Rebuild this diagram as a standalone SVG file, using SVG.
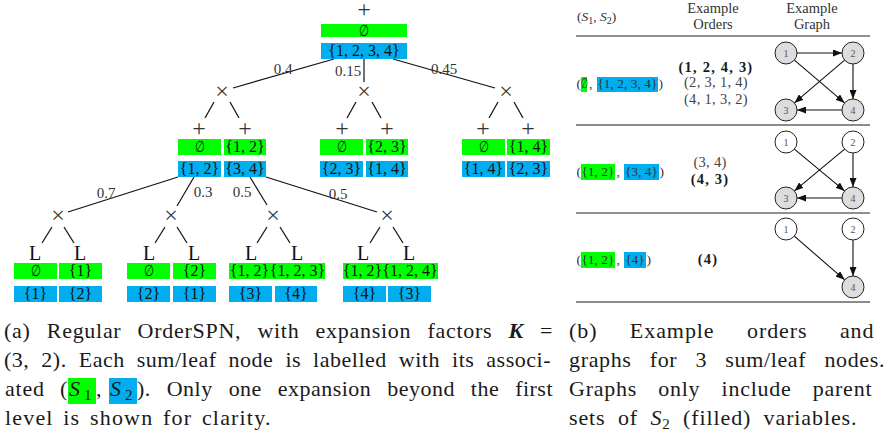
<svg xmlns="http://www.w3.org/2000/svg" width="884" height="438" viewBox="0 0 884 438">
<style>
text{font-family:"Liberation Serif","DejaVu Serif",serif;fill:#222}
.op{font-size:24px;text-anchor:middle;fill:#333}
.lf{font-size:20px;text-anchor:middle;fill:#111}
.set{font-size:16px;text-anchor:middle;fill:#111}
.w{font-size:15px;text-anchor:middle;fill:#333}
.g{fill:#00ff00}
.b{fill:#00aeef}
.e{stroke:#111;stroke-width:1.2;fill:none}
.t{font-size:13.5px;fill:#333}
.tc{font-size:13.5px;fill:#333;text-anchor:middle}
.hd{font-size:14.5px;fill:#333;text-anchor:middle}
.od{font-size:14.5px;fill:#444;text-anchor:middle;letter-spacing:0.3px}
.bd{font-weight:bold;fill:#1a1a1a;letter-spacing:1.2px}
.ar{stroke:#111;stroke-width:1.1;fill:none;marker-end:url(#ah)}
.nd{stroke:#222;stroke-width:1}
.nf{fill:#dddddd}
.nw{fill:#ffffff}
.nl{font-size:10px;text-anchor:middle;fill:#555}
.cap{font-size:22px;fill:#1a1a1a}
.it{font-style:italic}
.sub{font-size:15px}
</style>
<defs>
<marker id="ah" markerWidth="9" markerHeight="7" refX="9" refY="3.5" orient="auto" markerUnits="userSpaceOnUse"><path d="M0,0 L9,3.5 L0,7 z" fill="#111"/></marker>
</defs>

<g id="connectors">
<line class="e" x1="334" y1="59" x2="233" y2="88"/>
<line class="e" x1="364" y1="59" x2="364" y2="82"/>
<line class="e" x1="393" y1="59" x2="495" y2="88"/>
<line class="e" x1="214" y1="102" x2="205" y2="118"/>
<line class="e" x1="230" y1="102" x2="239" y2="118"/>
<line class="e" x1="356" y1="102" x2="347" y2="118"/>
<line class="e" x1="372" y1="102" x2="381" y2="118"/>
<line class="e" x1="498" y1="102" x2="489" y2="118"/>
<line class="e" x1="514" y1="102" x2="523" y2="118"/>
<line class="e" x1="178" y1="177" x2="68" y2="212"/>
<line class="e" x1="194" y1="177" x2="177" y2="206"/>
<line class="e" x1="250" y1="177" x2="267" y2="205"/>
<line class="e" x1="266" y1="177" x2="377" y2="212"/>
<line class="e" x1="52" y1="227" x2="42" y2="243"/>
<line class="e" x1="64" y1="227" x2="74" y2="243"/>
<line class="e" x1="165" y1="227" x2="155" y2="243"/>
<line class="e" x1="177" y1="227" x2="187" y2="243"/>
<line class="e" x1="267" y1="227" x2="257" y2="243"/>
<line class="e" x1="280" y1="227" x2="290" y2="243"/>
<line class="e" x1="380" y1="227" x2="370" y2="243"/>
<line class="e" x1="393" y1="227" x2="403" y2="243"/>
<text class="w" x="283" y="74">0.4</text>
<text class="w" x="348" y="76">0.15</text>
<text class="w" x="444" y="74">0.45</text>
<text class="w" x="106" y="198">0.7</text>
<text class="w" x="203" y="197">0.3</text>
<text class="w" x="242" y="197">0.5</text>
<text class="w" x="338" y="199">0.5</text>
</g>

<g id="root">
<text class="op" x="364" y="17">+</text>
<rect class="g" x="321" y="24" width="86" height="13"/>
<text class="set" x="364" y="35.5" textLength="10" lengthAdjust="spacingAndGlyphs">∅</text>
<rect class="b" x="321" y="43" width="86" height="16"/>
<text class="set" x="364" y="55.5">{1, 2, 3, 4}</text>
</g>

<g id="prod1"><text class="op" x="222" y="99">×</text></g>
<g id="prod2"><text class="op" x="364" y="99">×</text></g>
<g id="prod3"><text class="op" x="506" y="99">×</text></g>

<g id="sum1a">
<text class="op" x="199" y="136">+</text>
<rect class="g" x="178" y="139" width="43" height="16"/>
<text class="set" x="199.5" y="152" textLength="10" lengthAdjust="spacingAndGlyphs">∅</text>
<rect class="b" x="178" y="161" width="43" height="16"/>
<text class="set" x="199.5" y="173.5">{1, 2}</text>
</g>
<g id="sum1b">
<text class="op" x="245" y="136">+</text>
<rect class="g" x="224" y="139" width="42" height="16"/>
<text class="set" x="245" y="151.5">{1, 2}</text>
<rect class="b" x="224" y="161" width="42" height="16"/>
<text class="set" x="245" y="173.5">{3, 4}</text>
</g>
<g id="sum2a">
<text class="op" x="342" y="136">+</text>
<rect class="g" x="320" y="139" width="43" height="16"/>
<text class="set" x="341.5" y="152" textLength="10" lengthAdjust="spacingAndGlyphs">∅</text>
<rect class="b" x="320" y="161" width="43" height="16"/>
<text class="set" x="341.5" y="173.5">{2, 3}</text>
</g>
<g id="sum2b">
<text class="op" x="387" y="136">+</text>
<rect class="g" x="366" y="139" width="42" height="16"/>
<text class="set" x="387" y="151.5">{2, 3}</text>
<rect class="b" x="366" y="161" width="42" height="16"/>
<text class="set" x="387" y="173.5">{1, 4}</text>
</g>
<g id="sum3a">
<text class="op" x="483" y="136">+</text>
<rect class="g" x="462" y="139" width="43" height="16"/>
<text class="set" x="483.5" y="152" textLength="10" lengthAdjust="spacingAndGlyphs">∅</text>
<rect class="b" x="462" y="161" width="43" height="16"/>
<text class="set" x="483.5" y="173.5">{1, 4}</text>
</g>
<g id="sum3b">
<text class="op" x="528" y="136">+</text>
<rect class="g" x="507" y="139" width="43" height="16"/>
<text class="set" x="528.5" y="151.5">{1, 4}</text>
<rect class="b" x="507" y="161" width="43" height="16"/>
<text class="set" x="528.5" y="173.5">{2, 3}</text>
</g>

<g id="prod4"><text class="op" x="58" y="223">×</text></g>
<g id="prod5"><text class="op" x="171" y="223">×</text></g>
<g id="prod6"><text class="op" x="273" y="223">×</text></g>
<g id="prod7"><text class="op" x="387" y="223">×</text></g>

<g id="leaf1">
<text class="lf" x="35" y="260">L</text>
<rect class="g" x="14" y="263" width="43" height="16"/>
<text class="set" x="35.5" y="276" textLength="10" lengthAdjust="spacingAndGlyphs">∅</text>
<rect class="b" x="14" y="286" width="43" height="16"/>
<text class="set" x="35.5" y="298.5">{1}</text>
</g>
<g id="leaf2">
<text class="lf" x="80" y="260">L</text>
<rect class="g" x="59" y="263" width="43" height="16"/>
<text class="set" x="80.5" y="275.5">{1}</text>
<rect class="b" x="59" y="286" width="43" height="16"/>
<text class="set" x="80.5" y="298.5">{2}</text>
</g>
<g id="leaf3">
<text class="lf" x="149" y="260">L</text>
<rect class="g" x="127" y="263" width="43" height="16"/>
<text class="set" x="148.5" y="276" textLength="10" lengthAdjust="spacingAndGlyphs">∅</text>
<rect class="b" x="127" y="286" width="43" height="16"/>
<text class="set" x="148.5" y="298.5">{2}</text>
</g>
<g id="leaf4">
<text class="lf" x="194" y="260">L</text>
<rect class="g" x="173" y="263" width="43" height="16"/>
<text class="set" x="194.5" y="275.5">{2}</text>
<rect class="b" x="173" y="286" width="43" height="16"/>
<text class="set" x="194.5" y="298.5">{1}</text>
</g>
<g id="leaf5">
<text class="lf" x="251" y="260">L</text>
<rect class="g" x="229" y="263" width="41" height="16"/>
<text class="set" x="249.5" y="275.5">{1, 2}</text>
<rect class="b" x="229" y="286" width="43" height="16"/>
<text class="set" x="250.5" y="298.5">{3}</text>
</g>
<g id="leaf6">
<text class="lf" x="297" y="260">L</text>
<rect class="g" x="270" y="263" width="55" height="16"/>
<text class="set" x="297.5" y="275.5">{1, 2, 3}</text>
<rect class="b" x="275" y="286" width="42" height="16"/>
<text class="set" x="296" y="298.5">{4}</text>
</g>
<g id="leaf7">
<text class="lf" x="363" y="260">L</text>
<rect class="g" x="343" y="263" width="39" height="16"/>
<text class="set" x="362.5" y="275.5">{1, 2}</text>
<rect class="b" x="343" y="286" width="43" height="16"/>
<text class="set" x="364.5" y="298.5">{4}</text>
</g>
<g id="leaf8">
<text class="lf" x="409" y="260">L</text>
<rect class="g" x="382" y="263" width="56" height="16"/>
<text class="set" x="410" y="275.5">{1, 2, 4}</text>
<rect class="b" x="388" y="286" width="43" height="16"/>
<text class="set" x="409.5" y="298.5">{3}</text>
</g>

<g id="table">
<text class="t" x="577" y="21" font-size="14px">(<tspan class="it">S</tspan><tspan font-size="10px" dy="3">1</tspan><tspan dy="-3">, </tspan><tspan class="it">S</tspan><tspan font-size="10px" dy="3">2</tspan><tspan dy="-3">)</tspan></text>
<text class="hd" x="713" y="12.5">Example</text>
<text class="hd" x="713" y="28.5">Orders</text>
<text class="hd" x="812" y="12.5">Example</text>
<text class="hd" x="812" y="28.5">Graph</text>
<line x1="576" y1="36" x2="870" y2="36" stroke="#222" stroke-width="1"/>
<line x1="576" y1="125" x2="870" y2="125" stroke="#666" stroke-width="1.6"/>
<line x1="576" y1="213" x2="870" y2="213" stroke="#222" stroke-width="1"/>
<line x1="576" y1="302" x2="870" y2="302" stroke="#666" stroke-width="1.6"/>
</g>

<g id="row1">
<rect class="g" x="581" y="77" width="6" height="15"/>
<rect class="b" x="597" y="77" width="61" height="15"/>
<text class="t" x="576.5" y="88">(</text>
<text class="tc" x="584" y="88" textLength="7" lengthAdjust="spacingAndGlyphs">∅</text>
<text class="t" x="589" y="88">,</text>
<text class="tc" x="627.5" y="88">{1, 2, 3, 4}</text>
<text class="t" x="658.5" y="88">)</text>
<text class="od bd" x="716" y="72">(1, 2, 4, 3)</text>
<text class="od" x="716" y="87">(2, 3, 1, 4)</text>
<text class="od" x="716" y="104">(4, 1, 3, 2)</text>
</g>
<g id="row2">
<rect class="g" x="581" y="164" width="34" height="16"/>
<rect class="b" x="624" y="164" width="35" height="16"/>
<text class="t" x="576.5" y="176">(</text>
<text class="tc" x="598" y="176">{1, 2}</text>
<text class="t" x="616.5" y="176">,</text>
<text class="tc" x="641.5" y="176">{3, 4}</text>
<text class="t" x="659.5" y="176">)</text>
<text class="od" x="710" y="167">(3, 4)</text>
<text class="od bd" x="710" y="184">(4, 3)</text>
</g>
<g id="row3">
<rect class="g" x="581" y="252" width="34" height="16"/>
<rect class="b" x="624" y="252" width="22" height="16"/>
<text class="t" x="576.5" y="264">(</text>
<text class="tc" x="598" y="264">{1, 2}</text>
<text class="t" x="616.5" y="264">,</text>
<text class="tc" x="635" y="264">{4}</text>
<text class="t" x="646.5" y="264">)</text>
<text class="od bd" x="708" y="264">(4)</text>
</g>

<g id="graph1-edges">
<line class="ar" x1="797" y1="53" x2="842" y2="53"/>
<line class="ar" x1="794.4" y1="60.1" x2="844.6" y2="102.9"/>
<line class="ar" x1="844.6" y1="60.1" x2="794.4" y2="102.9"/>
<line class="ar" x1="853" y1="64" x2="853" y2="99"/>
<line class="ar" x1="842" y1="110" x2="797" y2="110"/>
</g>
<g id="g1n1"><circle class="nd nf" cx="786" cy="53" r="11"/><text class="nl" x="786" y="56.5">1</text></g>
<g id="g1n2"><circle class="nd nf" cx="853" cy="53" r="11"/><text class="nl" x="853" y="56.5">2</text></g>
<g id="g1n3"><circle class="nd nf" cx="786" cy="110" r="11"/><text class="nl" x="786" y="113.5">3</text></g>
<g id="g1n4"><circle class="nd nf" cx="853" cy="110" r="11"/><text class="nl" x="853" y="113.5">4</text></g>

<g id="graph2-edges">
<line class="ar" x1="794.4" y1="149.1" x2="844.6" y2="190.9"/>
<line class="ar" x1="844.6" y1="149.1" x2="794.4" y2="190.9"/>
<line class="ar" x1="853" y1="153" x2="853" y2="187"/>
<line class="ar" x1="842" y1="198" x2="797" y2="198"/>
</g>
<g id="g2n1"><circle class="nd nw" cx="786" cy="142" r="11"/><text class="nl" x="786" y="145.5">1</text></g>
<g id="g2n2"><circle class="nd nw" cx="853" cy="142" r="11"/><text class="nl" x="853" y="145.5">2</text></g>
<g id="g2n3"><circle class="nd nf" cx="786" cy="198" r="11"/><text class="nl" x="786" y="201.5">3</text></g>
<g id="g2n4"><circle class="nd nf" cx="853" cy="198" r="11"/><text class="nl" x="853" y="201.5">4</text></g>

<g id="graph3-edges">
<line class="ar" x1="794.3" y1="236.2" x2="844.7" y2="279.8"/>
<line class="ar" x1="853" y1="240" x2="853" y2="276"/>
</g>
<g id="g3n1"><circle class="nd nw" cx="786" cy="229" r="11"/><text class="nl" x="786" y="232.5">1</text></g>
<g id="g3n2"><circle class="nd nw" cx="853" cy="229" r="11"/><text class="nl" x="853" y="232.5">2</text></g>
<g id="g3n4"><circle class="nd nf" cx="853" cy="287" r="11"/><text class="nl" x="853" y="290.5">4</text></g>

<g id="caption-a">
<text class="cap" x="4" y="338" letter-spacing="0.5" word-spacing="10" textLength="549" lengthAdjust="spacing">(a) Regular OrderSPN, with expansion factors <tspan font-weight="bold" font-style="italic">K</tspan> =</text>
<text class="cap" x="4" y="367" letter-spacing="0.5" word-spacing="6" textLength="547" lengthAdjust="spacing">(3, 2). Each sum/leaf node is labelled with its associ-</text>
<rect class="g" x="68" y="378" width="28" height="26"/>
<rect class="b" x="109" y="378" width="28" height="26"/>
<text class="cap" x="5" y="396" letter-spacing="0.8">ated</text>
<text class="cap" x="60" y="396">(</text>
<text class="cap it" x="69" y="396">S</text>
<text class="cap sub" x="84" y="400">1</text>
<text class="cap" x="96" y="396">,</text>
<text class="cap it" x="110" y="396">S</text>
<text class="cap sub" x="125" y="400">2</text>
<text class="cap" x="137" y="396" letter-spacing="0.5" word-spacing="10" textLength="416" lengthAdjust="spacing">). Only one expansion beyond the first</text>
<text class="cap" x="5" y="425" letter-spacing="0.6" word-spacing="3" textLength="266" lengthAdjust="spacing">level is shown for clarity.</text>
</g>

<g id="caption-b">
<text class="cap" x="569" y="338" letter-spacing="0.5" word-spacing="26" textLength="305" lengthAdjust="spacing">(b) Example orders and</text>
<text class="cap" x="569" y="367" letter-spacing="0.5" word-spacing="12" textLength="316" lengthAdjust="spacing">graphs for 3 sum/leaf nodes.</text>
<text class="cap" x="569" y="396" letter-spacing="0.5" word-spacing="15" textLength="303" lengthAdjust="spacing">Graphs only include parent</text>
<text class="cap" x="569" y="425" letter-spacing="0.5" word-spacing="6" textLength="288" lengthAdjust="spacing">sets of <tspan class="it">S</tspan><tspan class="sub" dy="4">2</tspan><tspan dy="-4"> (filled) variables.</tspan></text>
</g>
</svg>
